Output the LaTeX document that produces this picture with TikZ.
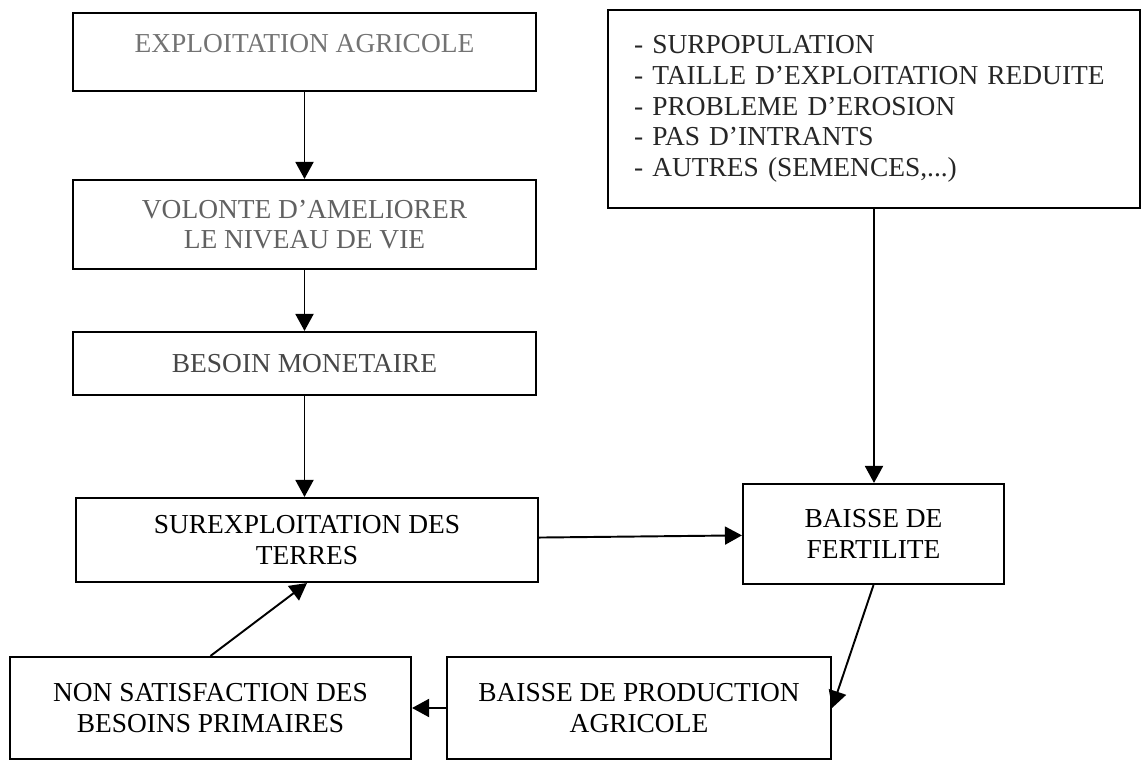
\documentclass[tikz,border=0pt]{standalone}
\usepackage{fontspec}
\setmainfont{Liberation Serif}
\usetikzlibrary{%
	arrows.meta%
}

\begin{document}
\begin{tikzpicture}[
		cadre/.style={draw, line width=1.2pt, align=center, inner sep=0pt,
			font=\fontsize{15.6}{17.5}\selectfont},
		fleche/.style={line width=1.1pt, -{Triangle[length=0.34cm, width=0.36cm]}}
	]
	\useasboundingbox (0,0) rectangle (22.86,15.24);
	
	% Left column
	\node[cadre, minimum width=9.26cm, minimum height=1.56cm, text depth=10pt, text=black!55] (expl) at (6.09,14.20) {EXPLOITATION AGRICOLE};
	\node[cadre, minimum width=9.26cm, minimum height=1.78cm, text=black!62] (volonte) at (6.09,10.75) {VOLONTE D'AMELIORER\\LE NIVEAU DE VIE};
	\node[cadre, minimum width=9.26cm, minimum height=1.26cm, text=black!72] (besoin) at (6.09,7.97) {BESOIN MONETAIRE};
	\node[cadre, minimum width=9.24cm, minimum height=1.68cm] (surexp) at (6.14,4.44) {SUREXPLOITATION DES\\TERRES};
	
	% Right part
	\node[cadre, minimum width=10.64cm, minimum height=3.96cm, align=left, text width=9.6cm, text=black!85] (causes) at (17.48,13.06)
		{- SURPOPULATION\\- TAILLE D'EXPLOITATION REDUITE\\- PROBLEME D'EROSION\\- PAS D'INTRANTS\\- AUTRES (SEMENCES,...)};
	\node[cadre, minimum width=5.22cm, minimum height=2.00cm] (fert) at (17.47,4.56) {BAISSE DE\\FERTILITE};
	
	% Bottom row
	\node[cadre, minimum width=8.02cm, minimum height=2.04cm] (nonsat) at (4.21,1.08) {NON SATISFACTION DES\\BESOINS PRIMAIRES};
	\node[cadre, minimum width=7.68cm, minimum height=2.04cm] (prod) at (12.78,1.08) {BAISSE DE PRODUCTION\\AGRICOLE};
	
	% Arrows
	\draw[fleche] (expl) -- (volonte);
	\draw[fleche] (volonte) -- (besoin);
	\draw[fleche] (besoin.south) -- (besoin.south |- surexp.north);
	\draw[fleche] (causes.south) -- (causes.south |- fert.north);
	\draw[fleche] (surexp) -- (fert);
	\draw[fleche] (fert.south) -- (prod.east);
	\draw[fleche] (prod) -- (nonsat);
	\draw[fleche] (nonsat.north) -- (surexp.south);
\end{tikzpicture}
\end{document}
